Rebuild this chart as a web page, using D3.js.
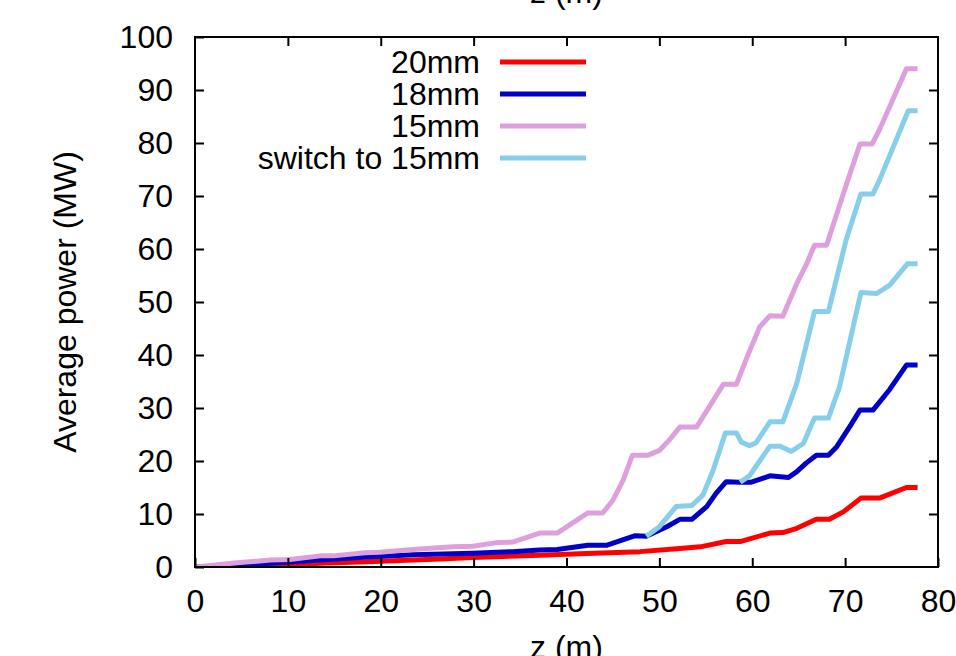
<!DOCTYPE html>
<html>
<head>
<meta charset="utf-8">
<script src="https://cdn.jsdelivr.net/npm/d3@7"></script>
<style>
  body { margin: 0; background: #fff; }
  text { font-family: 'Liberation Sans', Arial, sans-serif; font-size: 32px; fill: #000; }
</style>
</head>
<body>
<div id="chart"></div>
<script>
// values: [z (m), power (MW)]
const xTicks = [0, 10, 20, 30, 40, 50, 60, 70, 80];
const yTicks = [0, 10, 20, 30, 40, 50, 60, 70, 80, 90, 100];

const series20mm = [[0,0],[6,0.1],[13.5,0.7],[18.5,1.0],[26.4,1.5],[29.9,1.8],[37.1,2.2],[41.4,2.5],
  [47.9,2.9],[52.2,3.5],[54.4,3.8],[57.2,4.8],[58.7,4.8],[61.9,6.4],[63.3,6.5],[64.8,7.3],[66.9,9.0],
  [68.3,9.0],[69.8,10.4],[71.7,13.0],[73.7,13.0],[76.6,15.0],[77.8,15.0]];

const series18mm = [[0,0],[4.7,0.2],[8.1,0.7],[13.5,1.3],[18.5,1.9],[23.5,2.3],[29.9,2.6],[34.2,2.9],
  [37.1,3.2],[39,3.3],[42.3,4.1],[44.3,4.1],[47.4,5.9],[48.6,5.8],[50.8,7.6],[52.2,9.0],[53.5,9.0],
  [55.1,11.4],[56.1,13.9],[57.2,16.1],[58.7,16.0],[59.9,16.0],[61.9,17.2],[63.9,16.9],[64.8,18],
  [65.8,19.6],[66.9,21.1],[68.2,21.1],[69.1,22.7],[70.5,26.5],[71.6,29.6],[73,29.6],[74.8,33.5],
  [76.6,38.1],[77.8,38.1]];

const series15mm = [[0,0],[4.5,0.8],[8.1,1.3],[10.2,1.4],[13.5,2.1],[14.9,2.1],[18.3,2.7],[19.9,2.8],
  [22.8,3.2],[24.2,3.4],[27.8,3.8],[29.9,3.9],[32.5,4.6],[34.2,4.7],[37.1,6.4],[39,6.4],[42.3,10.2],
  [43.9,10.2],[45,12.6],[46.1,16.4],[47.1,21.1],[48.8,21.1],[50,22],[51.1,24],[52.2,26.4],[54,26.4],
  [56.9,34.5],[58.3,34.5],[59.4,39.4],[60.8,45.3],[61.9,47.4],[63.3,47.3],[63.7,49],[64.8,53.5],
  [65.8,57],[66.7,60.7],[68,60.7],[70.1,72],[71.6,79.8],[72.9,79.8],[73.7,82.5],[76.6,94],[77.8,94]];

// two runs switched to 15mm, one at z~48.6 and one at z~58.7
const switchEarly = [[48.6,5.8],[50,7.6],[51.8,11.4],[53.5,11.6],[54.7,13.6],[55.8,18.3],[57.1,25.3],
  [58.3,25.3],[58.8,23.6],[59.7,22.9],[60.4,23.4],[61.9,27.4],[63.3,27.4],[64.8,34.7],[66.7,48.2],
  [68.2,48.2],[70.1,61.7],[71.7,70.4],[73,70.4],[73.7,73],[76.8,86.1],[77.8,86.1]];

const switchLate = [[58.7,16.0],[59.7,17.2],[61.9,22.8],[63,22.8],[64.2,21.8],[65.5,23.3],[66.7,28.1],
  [68.2,28.1],[69.4,34],[71.7,51.8],[73.4,51.6],[74.8,53.2],[76.7,57.2],[77.8,57.2]];

const legendLabels = ['20mm', '18mm', '15mm', 'switch to 15mm'];
const colors = ['#ff0000', '#0000c8', '#dda0dd', '#87ceeb'];

const width = 956, height = 656;
const margin = {top: 37, right: 18, bottom: 89, left: 195};

const svg = d3.select('#chart').append('svg')
    .attr('width', width)
    .attr('height', height);

const x = d3.scaleLinear().domain([0, 80]).range([margin.left, width - margin.right]);
const y = d3.scaleLinear().domain([0, 100]).range([height - margin.bottom, margin.top]);

const line = d3.line().x(d => x(d[0])).y(d => y(d[1]));

svg.append('defs').append('clipPath').attr('id', 'clip')
  .append('rect')
    .attr('x', x(0)).attr('y', y(100))
    .attr('width', x(80) - x(0)).attr('height', y(0) - y(100));

const lines = [
  {data: series20mm, color: colors[0]},
  {data: series18mm, color: colors[1]},
  {data: series15mm, color: colors[2]},
  {data: switchEarly, color: colors[3]},
  {data: switchLate, color: colors[3]}
];

svg.append('g').attr('clip-path', 'url(#clip)')
  .selectAll('path')
  .data(lines)
  .join('path')
    .attr('d', d => line(d.data))
    .attr('fill', 'none')
    .attr('stroke', d => d.color)
    .attr('stroke-width', 5)
    .attr('stroke-linejoin', 'round');

// axes: ticks point inward, mirrored on top and right
const tickLen = 9;
svg.append('g')
    .attr('transform', `translate(0,${y(0)})`)
    .call(d3.axisBottom(x).tickValues(xTicks).tickSize(-tickLen).tickPadding(22));
svg.append('g')
    .attr('transform', `translate(0,${y(100)})`)
    .call(d3.axisTop(x).tickValues(xTicks.slice(1, -1)).tickSize(-tickLen).tickFormat(''));
svg.append('g')
    .attr('transform', `translate(${x(0)},0)`)
    .call(d3.axisLeft(y).tickValues(yTicks).tickSize(-tickLen).tickPadding(22));
svg.append('g')
    .attr('transform', `translate(${x(80)},0)`)
    .call(d3.axisRight(y).tickValues(yTicks.slice(1, -1)).tickSize(-tickLen).tickFormat(''));

svg.selectAll('.domain').remove();
svg.selectAll('.tick line').attr('stroke', '#000').attr('stroke-width', 2);
svg.selectAll('g[font-size]').attr('font-size', null).attr('font-family', null);

// frame
svg.append('rect')
    .attr('x', x(0)).attr('y', y(100))
    .attr('width', x(80) - x(0)).attr('height', y(0) - y(100))
    .attr('fill', 'none')
    .attr('stroke', '#000')
    .attr('stroke-width', 2);

// axis labels
svg.append('text')
    .attr('x', (x(0) + x(80)) / 2).attr('y', 658)
    .attr('text-anchor', 'middle')
    .text('z (m)');
svg.append('text')
    .attr('x', (x(0) + x(80)) / 2).attr('y', 3)
    .attr('text-anchor', 'middle')
    .text('z (m)');
svg.append('text')
    .attr('transform', `translate(76,${(y(0) + y(100)) / 2}) rotate(-90)`)
    .attr('text-anchor', 'middle')
    .text('Average power (MW)');

// legend
const legend = svg.append('g').attr('class', 'legend');
const rows = legend.selectAll('g')
    .data(legendLabels)
  .join('g')
    .attr('transform', (d, i) => `translate(0,${62 + i * 32})`);
rows.append('text')
    .attr('x', 480)
    .attr('dy', '0.35em')
    .attr('text-anchor', 'end')
    .text(d => d);
rows.append('line')
    .attr('x1', 500).attr('x2', 586)
    .attr('stroke', (d, i) => colors[i])
    .attr('stroke-width', 5);
</script>
</body>
</html>
